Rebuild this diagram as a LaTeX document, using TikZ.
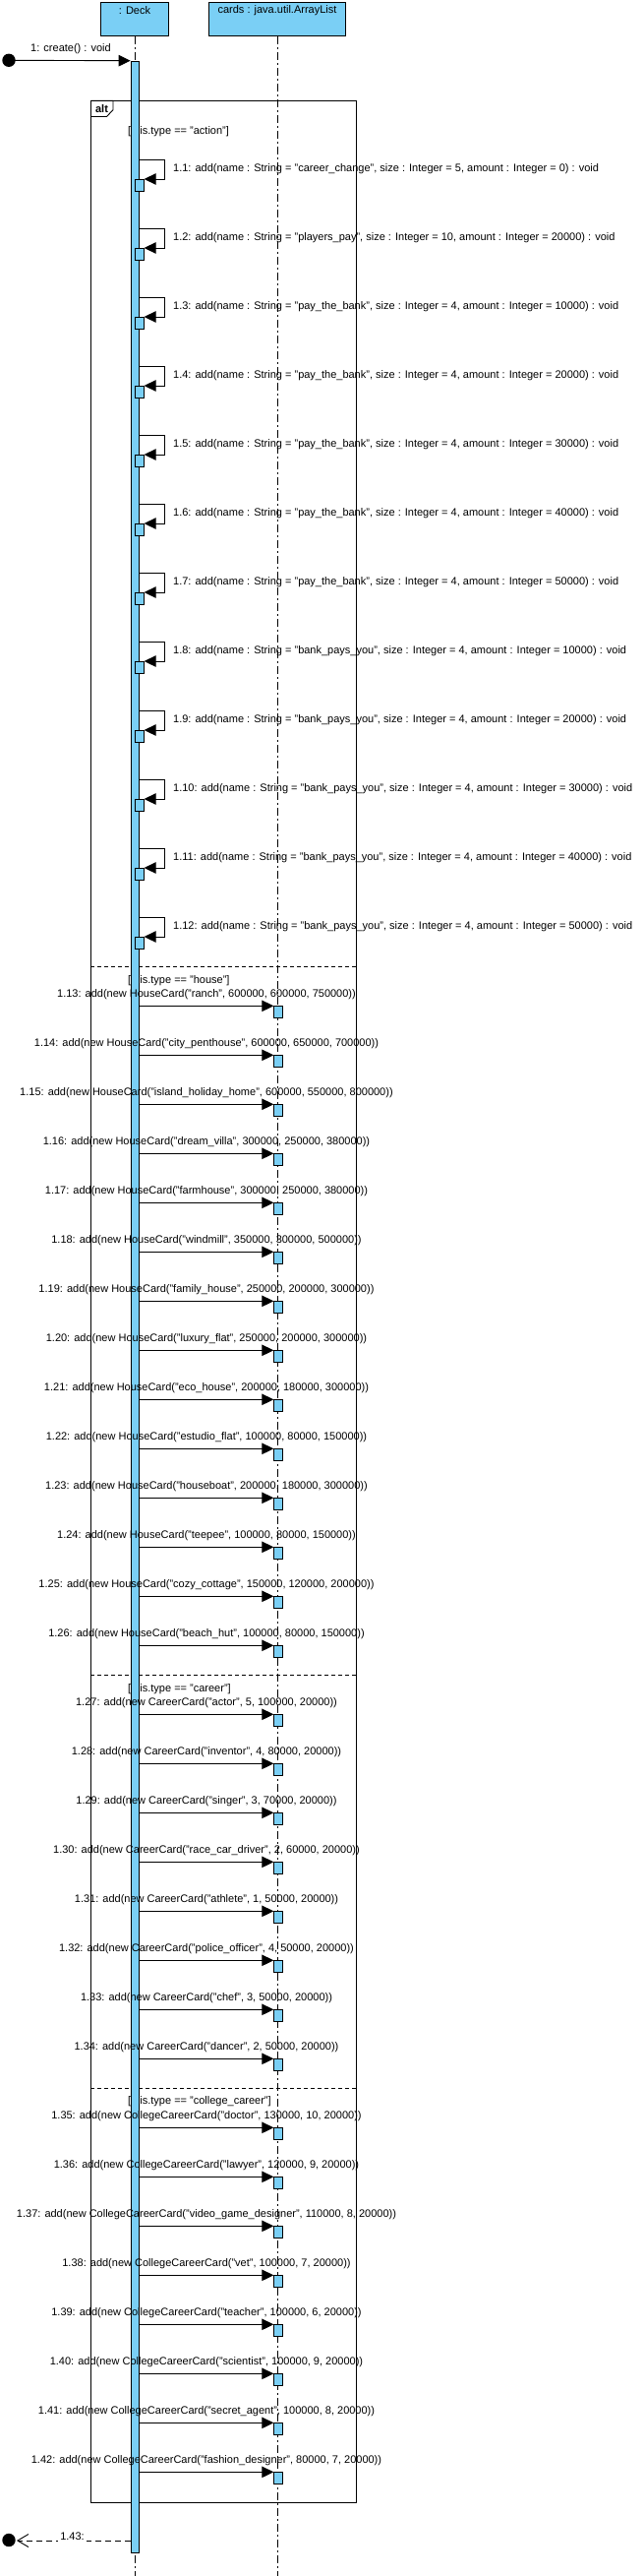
\documentclass[tikz,border=0pt]{standalone}
\usepackage{fontspec}
\setmainfont{Liberation Sans}
\usetikzlibrary{arrows.meta}
\definecolor{vpblue}{RGB}{122,207,245}
\begin{document}
\begin{tikzpicture}[x=1pt,y=-1pt,
  every node/.style={font=\fontsize{11}{13}\selectfont, inner sep=0pt},
  lifebox/.style={draw, fill=vpblue, line width=0.9pt, minimum height=34.4pt},
  actbar/.style={draw, fill=vpblue, line width=0.9pt, minimum width=8.4pt},
  smallact/.style={draw, fill=vpblue, line width=0.9pt, minimum width=8.4pt, minimum height=11.6pt, anchor=north west},
  lifeline/.style={line width=0.9pt, dash pattern=on 8pt off 3pt on 2pt off 3pt},
  msg/.style={line width=0.9pt, -{Triangle[length=12pt,width=11.5pt]}},
  retmsg/.style={line width=0.9pt, dash pattern=on 6pt off 4pt, -{Straight Barb[length=11pt,width=13pt,line width=0.9pt]}},
  guard/.style={anchor=west},
  msglbl/.style={anchor=center},
  sep/.style={line width=0.9pt, dash pattern=on 4pt off 3pt}
]
\useasboundingbox (0,0) rectangle (654,2618);
\fill[white] (0,0) rectangle (654,2618);

% lifelines
\node[lifebox, minimum width=69.4pt] (deck) at (137,19.5) {};
\node (decklbl) at (137,10.7) {: Deck};
\node[lifebox, minimum width=139.4pt] (cards) at (282,19.5) {};
\node (cardslbl) at (282,10.7) {cards : java.util.ArrayList};
\coordinate (deckend) at (137,2618);
\coordinate (cardsend) at (282,2618);
\draw[lifeline] (deck.south) -- (deckend);
\draw[lifeline] (cards.south) -- (cardsend);

% combined fragment
\draw[line width=0.9pt] (92.3,102.3) rectangle (362.3,2543);
\draw[line width=0.9pt] (92.3,102.3) -- (115,102.3) -- (115,111.7) -- (108.5,118.5) -- (92.3,118.5);
\node[font=\fontsize{11}{13}\selectfont\bfseries] (altlbl) at (103.5,110.5) {alt};
\draw[sep] (92.3,982) -- (362.3,982);
\draw[sep] (92.3,1702) -- (362.3,1702);
\draw[sep] (92.3,2122) -- (362.3,2122);
\node[guard] (g1) at (130,133.3) {[this.type == "action"]};
\node[guard] (g2) at (130,996.7) {[this.type == "house"]};
\node[guard] (g3) at (130,1716.7) {[this.type == "career"]};
\node[guard] (g4) at (130,2135.7) {[this.type == "college\_career"]};

% activation bar of Deck
\node[actbar, minimum height=2532.3pt, anchor=north] (act) at (137.3,61.7) {};

% create message
\fill (9,61.3) circle (6.7pt);
\coordinate (start) at (9,61.3);
\draw[msg] (start) -- (act.north west);
\node (createlbl) at (72,50) {1: create() : void};

% self messages
\foreach \ii/\nm/\sz/\am in {1/career\_change/5/0, 2/players\_pay/10/20000,
  3/pay\_the\_bank/4/10000, 4/pay\_the\_bank/4/20000, 5/pay\_the\_bank/4/30000,
  6/pay\_the\_bank/4/40000, 7/pay\_the\_bank/4/50000, 8/bank\_pays\_you/4/10000,
  9/bank\_pays\_you/4/20000, 10/bank\_pays\_you/4/30000, 11/bank\_pays\_you/4/40000,
  12/bank\_pays\_you/4/50000}{
  \pgfmathsetmacro{\yy}{162.7+70*(\ii-1)}
  \node[smallact] (sa\ii) at (137.3,\yy+19.3) {};
  \draw[msg] (act.east |- 0,\yy) -- (167.3,\yy) |- (sa\ii.north east);
  \node[anchor=west] (la\ii) at (176,\yy+8.5) {1.\ii: add(name : String = "\nm", size : Integer = \sz, amount : Integer = \am) : void};
}

% house messages
\foreach \ii/\nm/\a/\b/\c in {13/ranch/600000/600000/750000,
  14/city\_penthouse/600000/650000/700000,
  15/island\_holiday\_home/600000/550000/800000,
  16/dream\_villa/300000/250000/380000,
  17/farmhouse/300000/250000/380000,
  18/windmill/350000/300000/500000,
  19/family\_house/250000/200000/300000,
  20/luxury\_flat/250000/200000/300000,
  21/eco\_house/200000/180000/300000,
  22/estudio\_flat/100000/80000/150000,
  23/houseboat/200000/180000/300000,
  24/teepee/100000/80000/150000,
  25/cozy\_cottage/150000/120000/200000,
  26/beach\_hut/100000/80000/150000}{
  \pgfmathsetmacro{\yy}{1022.3+50*(\ii-13)}
  \node[smallact] (cb\ii) at (278.3,\yy) {};
  \draw[msg] (act.east |- 0,\yy) -- (cb\ii.north west);
  \node[msglbl] (lb\ii) at (210,\yy-12) {1.\ii: add(new HouseCard("\nm", \a, \b, \c))};
}

% career messages
\foreach \ii/\nm/\a/\b/\c in {27/actor/5/100000/20000,
  28/inventor/4/80000/20000,
  29/singer/3/70000/20000,
  30/race\_car\_driver/2/60000/20000,
  31/athlete/1/50000/20000,
  32/police\_officer/4/50000/20000,
  33/chef/3/50000/20000,
  34/dancer/2/50000/20000}{
  \pgfmathsetmacro{\yy}{1742.3+50*(\ii-27)}
  \node[smallact] (cb\ii) at (278.3,\yy) {};
  \draw[msg] (act.east |- 0,\yy) -- (cb\ii.north west);
  \node[msglbl] (lb\ii) at (210,\yy-12) {1.\ii: add(new CareerCard("\nm", \a, \b, \c))};
}

% college career messages
\foreach \ii/\nm/\a/\b/\c in {35/doctor/130000/10/20000,
  36/lawyer/120000/9/20000,
  37/video\_game\_designer/110000/8/20000,
  38/vet/100000/7/20000,
  39/teacher/100000/6/20000,
  40/scientist/100000/9/20000,
  41/secret\_agent/100000/8/20000,
  42/fashion\_designer/80000/7/20000}{
  \pgfmathsetmacro{\yy}{2162.3+50*(\ii-35)}
  \node[smallact] (cb\ii) at (278.3,\yy) {};
  \draw[msg] (act.east |- 0,\yy) -- (cb\ii.north west);
  \node[msglbl] (lb\ii) at (210,\yy-12) {1.\ii: add(new CollegeCareerCard("\nm", \a, \b, \c))};
}

% return message
\fill (9,2581.5) circle (6.7pt);
\coordinate (endpt) at (17,2582);
\draw[retmsg] (act.west |- 0,2582) -- (endpt);
\node[fill=white, inner xsep=2pt, inner ysep=1pt] (retlbl) at (73.5,2578) {1.43:};
\end{tikzpicture}
\end{document}
